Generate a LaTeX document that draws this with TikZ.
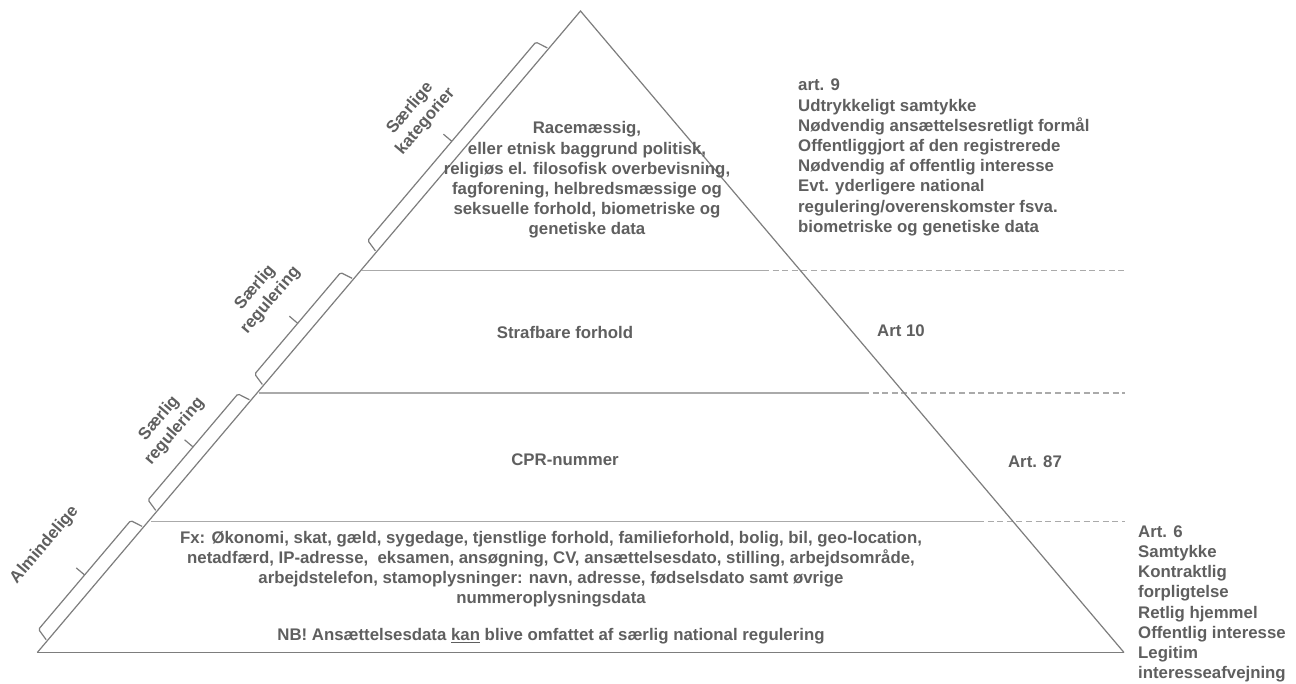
\documentclass[tikz,border=0pt]{standalone}
\usepackage{fontspec}
\setmainfont{Liberation Sans}
\usetikzlibrary{calc}
\definecolor{txtgray}{RGB}{95,95,95}
\definecolor{edgegray}{RGB}{125,125,125}
\definecolor{laygray}{RGB}{170,170,170}
\begin{document}
\begin{tikzpicture}[x=1pt,y=-1pt,
  lbl/.style={text=txtgray,font=\fontsize{16.8}{20.2}\selectfont\bfseries,inner sep=0pt,align=center},
  lblL/.style={lbl,align=left,anchor=west},
  edgeline/.style={draw=edgegray,line width=1.2pt,line join=miter},
  layline/.style={draw=laygray,line width=1.8pt},
  laydash/.style={draw=laygray,line width=1.4pt,dash pattern=on 6pt off 3.6pt},
  brk/.style={draw=edgegray,line width=1.2pt,rounded corners=1.5pt}]
\useasboundingbox (0,0) rectangle (1296,684);
\fill[white] (0,0) rectangle (1296,684);
% triangle corners
\coordinate (B) at (37.3,652.5);
\coordinate (A) at (580.5,11);
\coordinate (C) at (1124,652.5);
% layer lines
\coordinate (l1a) at (362,270.5); \coordinate (l1b) at (763,270.5); \coordinate (l1c) at (1125,270.5);
\coordinate (l2a) at (259,393);   \coordinate (l2b) at (863,393);   \coordinate (l2c) at (1125,393);
\coordinate (l3a) at (151,521.5); \coordinate (l3b) at (978,521.5); \coordinate (l3c) at (1125,521.5);
\draw[layline] (l1a) -- (l1b);
\draw[laydash] (l1b) -- (l1c);
\draw[layline] (l2a) -- (l2b);
\draw[laydash] (l2b) -- (l2c);
\draw[layline] (l3a) -- (l3b);
\draw[laydash] (l3b) -- (l3c);
% triangle
\draw[edgeline] (B) -- (A) -- (C);
\draw[draw=edgegray,line width=1.8pt] (B) -- (C);
% brackets along the left edge
\newcommand\edgebrk[2]{%
  \path ($(B)!{(#1)/840.6}!(A)$) coordinate (bs)
        ($(B)!{(#1-3)/840.6}!(A)$) coordinate (bsi)
        ($(B)!{(#2)/840.6}!(A)$) coordinate (be)
        ($(B)!{(#2+3)/840.6}!(A)$) coordinate (bei)
        ($(B)!{(#1+#2)/2/840.6}!(A)$) coordinate (bm);
  \draw[brk] ($(bsi)!1.5pt!90:(A)$) -- ($(bs)!14pt!90:(A)$) -- ($(be)!14pt!90:(A)$) -- ($(bei)!1.5pt!90:(A)$);
  \draw[brk] ($(bm)!14pt!90:(A)$) -- ($(bm)!25pt!90:(A)$);
}
\edgebrk{528}{788}
\edgebrk{353}{486}
\edgebrk{188}{327}
\edgebrk{18.5}{161}
% bracket labels
\node[lbl,rotate=49.7] (k1) at (418,115) {Særlige\\kategorier};
\node[lbl,rotate=49.7] (k2) at (263,294) {Særlig\\regulering};
\node[lbl,rotate=49.7] (k3) at (167,425) {Særlig\\regulering};
\node[lbl,rotate=49.7] (k4) at (44.5,545) {Almindelige};
% pyramid texts
\node[lbl] (t1) at (587,180) {Racemæssig,\\eller etnisk baggrund politisk,\\religiøs el. filosofisk overbevisning,\\fagforening, helbredsmæssige og\\seksuelle forhold, biometriske og\\genetiske data};
\node[lbl] (t2) at (565,332) {Strafbare forhold};
\node[lbl] (t3) at (565,460) {CPR-nummer};
\node[lbl] (t4) at (551,569) {Fx: Økonomi, skat, gæld, sygedage, tjenstlige forhold, familieforhold, bolig, bil, geo-location,\\netadfærd, IP-adresse,\ \ eksamen, ansøgning, CV, ansættelsesdato, stilling, arbejdsområde,\\arbejdstelefon, stamoplysninger: navn, adresse, fødselsdato samt øvrige\\nummeroplysningsdata};
\node[lbl] (t5) at (551,636) {NB! Ansættelsesdata \underline{kan} blive omfattet af særlig national regulering};
% right texts
\node[lblL] (r1) at (798,157.5) {art. 9\\Udtrykkeligt samtykke\\Nødvendig ansættelsesretligt formål\\Offentliggjort af den registrerede\\Nødvendig af offentlig interesse\\Evt. yderligere national\\regulering/overenskomster fsva.\\biometriske og genetiske data};
\node[lbl] (r2) at (901,331) {Art 10};
\node[lbl] (r3) at (1035,462) {Art. 87};
\node[lblL] (r4) at (1138,604) {Art. 6\\Samtykke\\Kontraktlig\\forpligtelse\\Retlig hjemmel\\Offentlig interesse\\Legitim\\interesseafvejning};
\end{tikzpicture}
\end{document}
